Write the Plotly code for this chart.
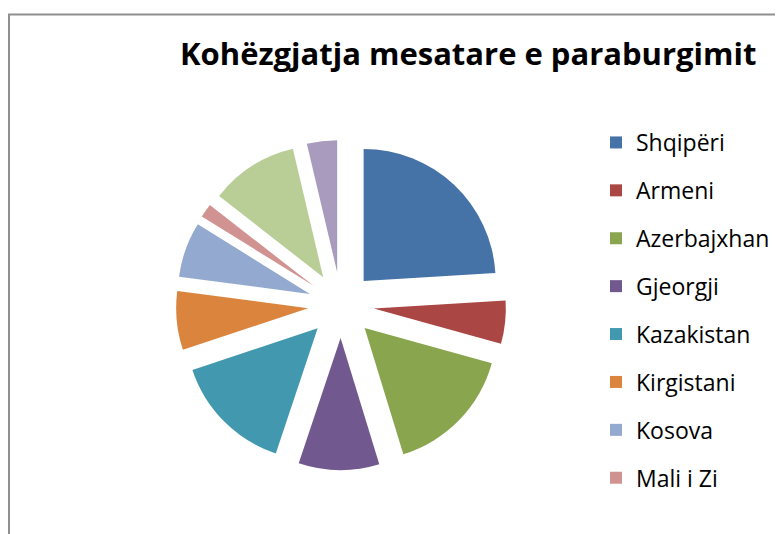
import plotly.graph_objects as go

# Data
countries = ["Shqipëri", "Armeni", "Azerbajxhan", "Gjeorgji", "Kazakistan",
             "Kirgistani", "Kosova", "Mali i Zi", "Moldavi", "Serbi"]
values = [24.1, 5.3, 16.0, 9.9, 14.8, 7.2, 6.8, 1.7, 10.8, 3.7]
colors = ["#4572A7", "#AA4643", "#89A54E", "#71588F", "#4198AF",
          "#DB843D", "#93A9CF", "#D19392", "#B9CD96", "#A99BBD"]
legend_count = 8  # only first eight entries visible in the legend
title_text = "Kohëzgjatja mesatare e paraburgimit"

W, H = 783, 534

fig = go.Figure()

# main exploded pie
fig.add_trace(go.Pie(
    labels=countries, values=values, sort=False, direction="clockwise",
    rotation=0, pull=[0.25] * len(values), textinfo="none",
    marker=dict(colors=colors, line=dict(width=0)),
    showlegend=False,
    domain=dict(x=[168 / W, 498 / W], y=[(H - 462) / H, (H - 132) / H]),
))

# legend entries (tiny invisible pies, one per label, for spacing)
for i in range(legend_count):
    fig.add_trace(go.Pie(
        labels=[countries[i]], values=[values[i]], sort=False,
        textinfo="none", marker=dict(colors=[colors[i]], line=dict(width=0)),
        legendgroup="g%d" % i, showlegend=True, hoverinfo="skip",
        domain=dict(x=[0, 0.0004], y=[0, 0.0004]),
    ))

fig.add_annotation(
    text="<b>" + title_text + "</b>", xref="paper", yref="paper",
    x=459.5 / W, y=(H - 44.8) / H, xanchor="center", yanchor="middle",
    showarrow=False, font=dict(family="Open Sans", size=31, color="#000000"),
)

# chart border (cropped frame)
fig.add_shape(type="rect", xref="paper", yref="paper",
              x0=1 / W, x1=1.2, y0=-0.2, y1=(H - 6.5) / H,
              line=dict(color="#8f8f8f", width=2), fillcolor="rgba(0,0,0,0)")

fig.update_layout(
    width=W, height=H, autosize=False,
    margin=dict(l=0, r=0, t=0, b=0),
    paper_bgcolor="white", plot_bgcolor="white",
    legend=dict(
        x=588 / W, xanchor="left", y=(H - 113) / H, yanchor="top",
        font=dict(family="Open Sans", size=23, color="#000000"),
        tracegroupgap=15, traceorder="grouped", bgcolor="rgba(0,0,0,0)",
    ),
)

fig.write_html("out.html")
